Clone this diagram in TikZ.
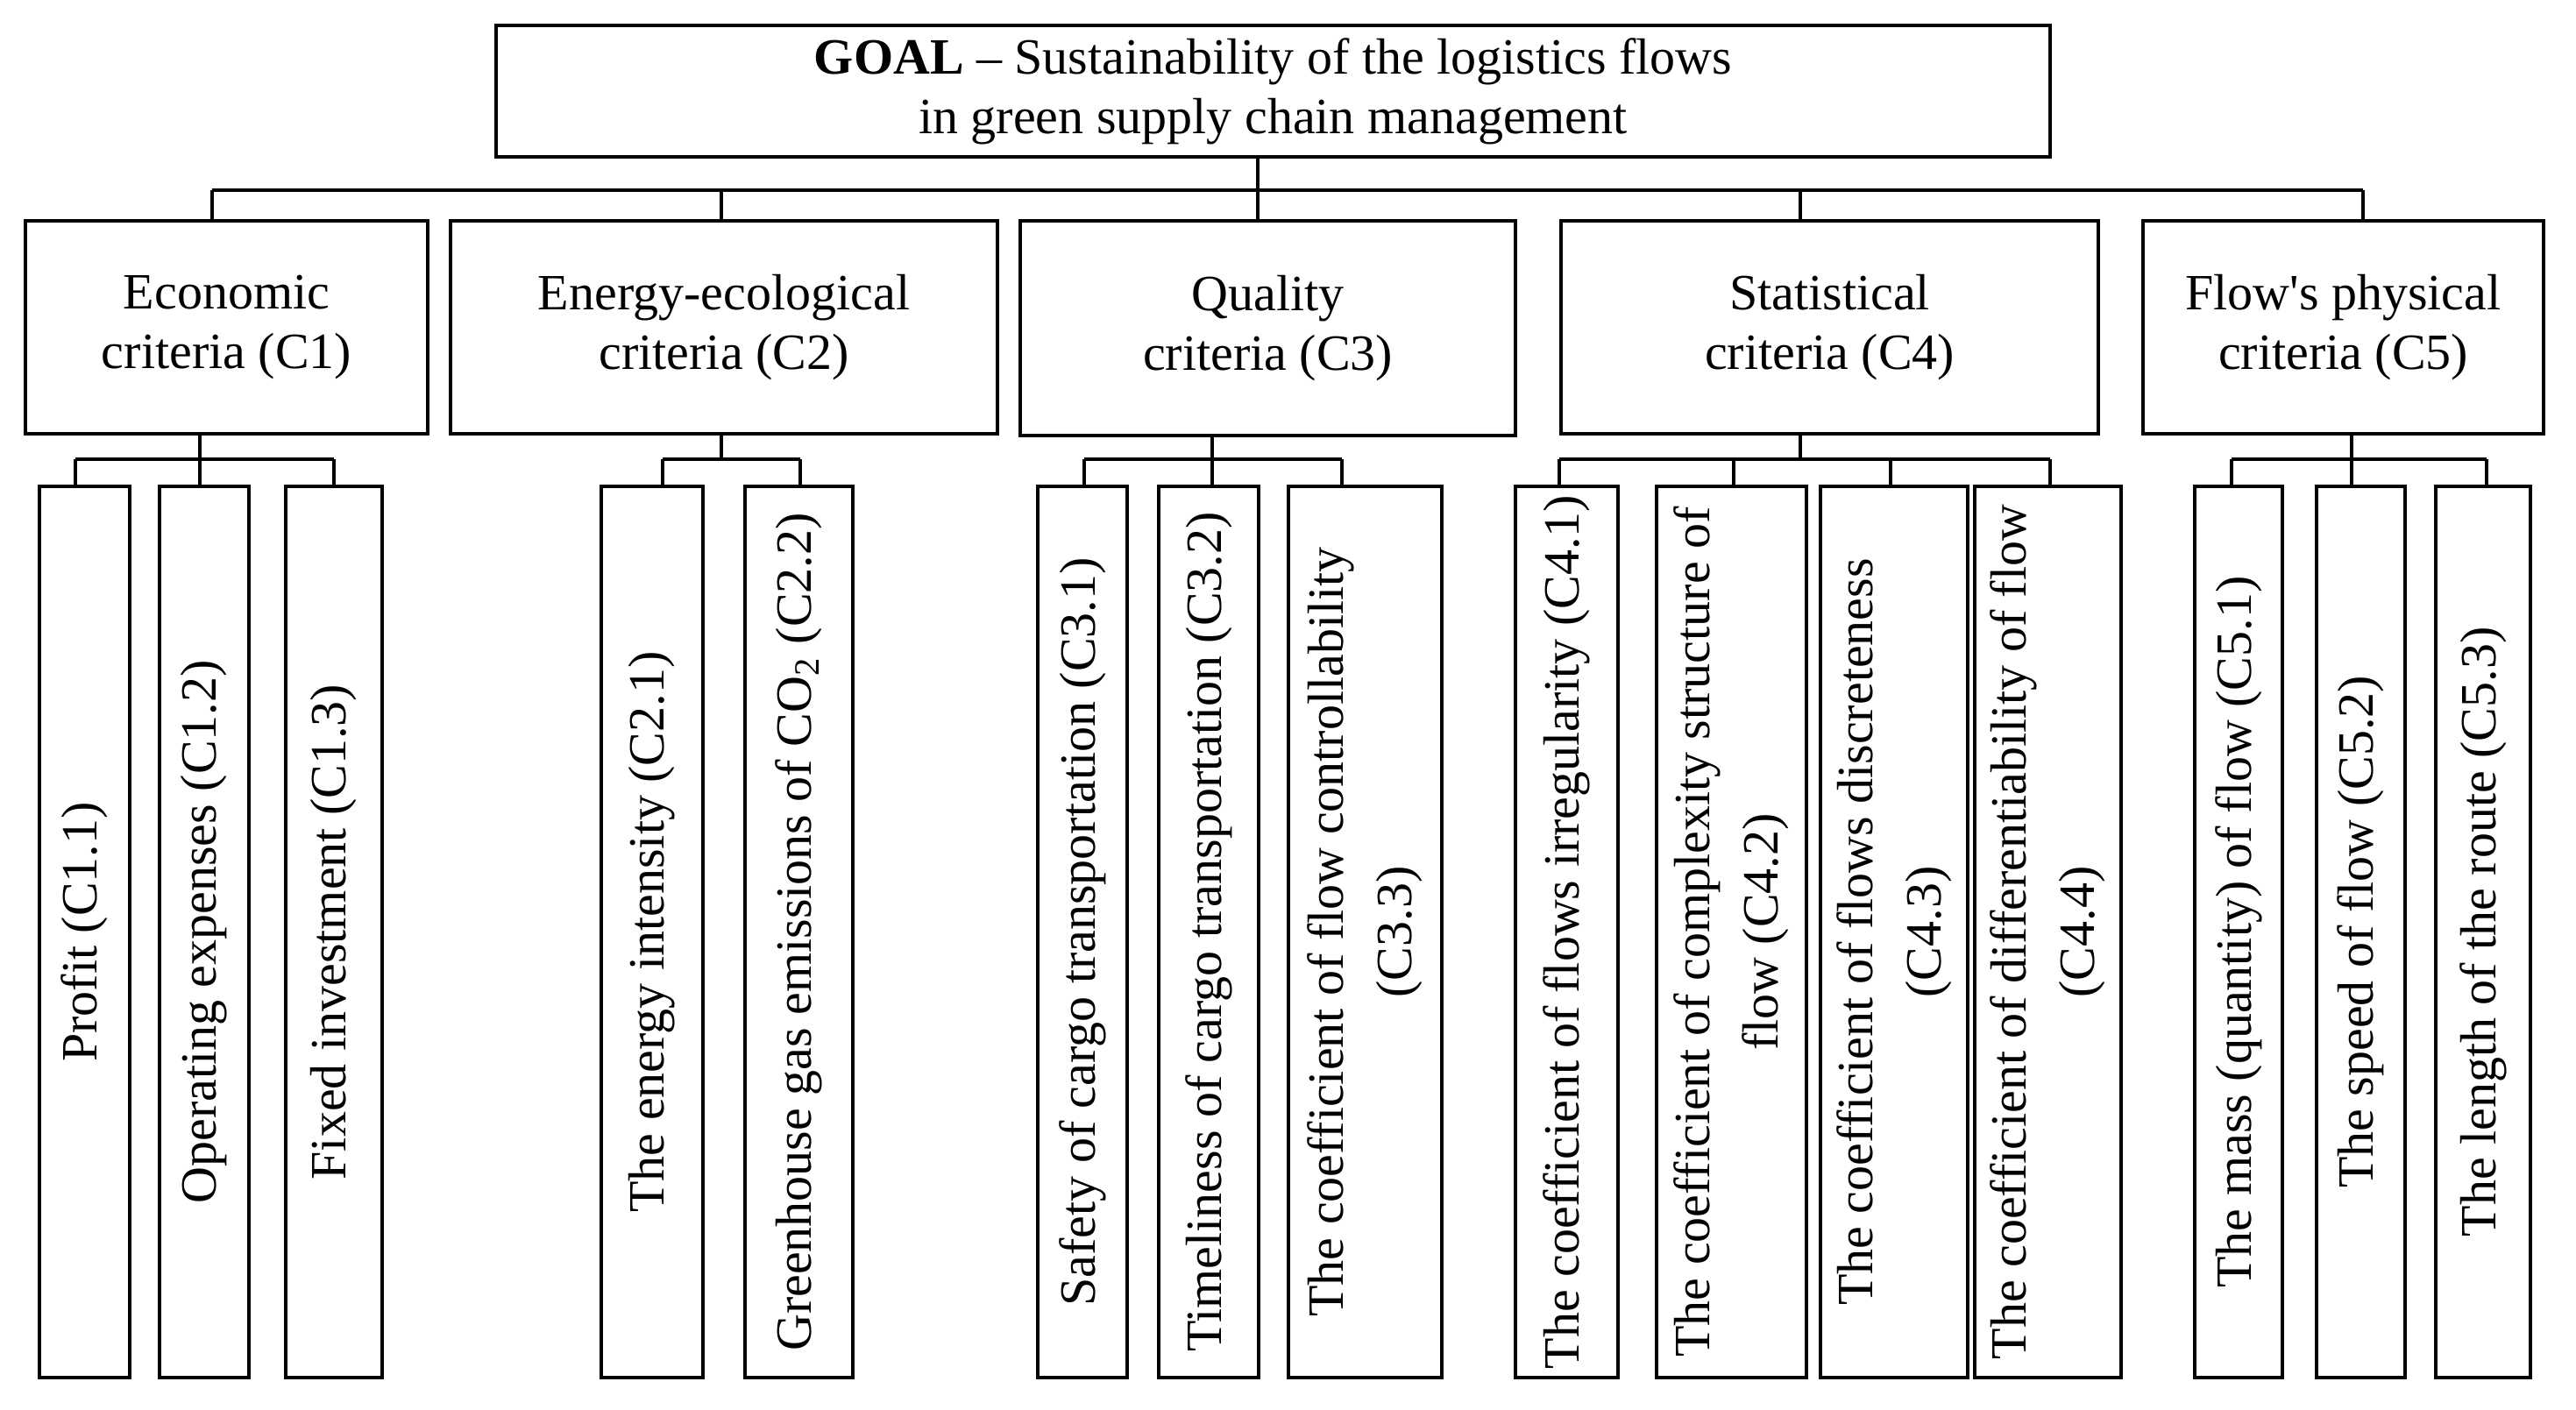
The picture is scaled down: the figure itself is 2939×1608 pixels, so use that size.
\documentclass[tikz,border=0pt]{standalone}
\usepackage{fontspec}
\setmainfont{Liberation Serif}[Ligatures=TeXOff]
\tikzset{
  every path/.style={line width=1pt},
  cbox/.style={draw, line width=1pt, inner sep=0pt, align=center, font=\fontsize{14.5}{17}\selectfont},
  lbox/.style={draw, line width=1pt, inner sep=0pt, align=center, rotate=90, font=\fontsize{14.5}{19.5}\selectfont},
  conn/.style={line width=1pt},
}
\newcommand\critbox[6]{\node[cbox, minimum width={(#4-#2)*0.25pt}, minimum height={(#5-#3)*0.25pt}] (#1) at ({(#2+#4)/2},{(#3+#5)/2}) {#6};}
\newcommand\leafbox[4]{\node[lbox, minimum width={(1572-555)*0.25pt}, minimum height={(#3-#2)*0.25pt}] (#1) at ({(#2+#3)/2},{(555+1572)/2}) {#4};}
\begin{document}
\begin{tikzpicture}[x=0.25pt,y=-0.25pt]
\useasboundingbox (0,0) rectangle (2939,1608);
% goal
\critbox{goal}{566}{29}{2339}{179}{\fontsize{14.5}{16.5}\selectfont\textbf{GOAL} – Sustainability of the logistics flows\\in green supply chain management}
% criteria
\critbox{c1}{29}{252}{488}{495}{Economic\\criteria (C1)}
\critbox{c2}{514}{252}{1138}{495}{Energy-ecological\\criteria (C2)}
\critbox{c3}{1164}{252}{1729}{497}{Quality\\criteria (C3)}
\critbox{c4}{1781}{252}{2394}{495}{Statistical\\criteria (C4)}
\critbox{c5}{2445}{252}{2902}{495}{Flow's physical\\criteria (C5)}
% leaves
\leafbox{l11}{45}{148}{Profit (C1.1)}
\leafbox{l12}{182}{284}{Operating expenses (C1.2)}
\leafbox{l13}{326}{436}{Fixed investment (C1.3)}
\leafbox{l21}{686}{802}{The energy intensity (C2.1)}
\leafbox{l22}{850}{973}{Greenhouse gas emissions of CO\textsubscript{2} (C2.2)}
\leafbox{l31}{1184}{1286}{Safety of cargo transportation (C3.1)}
\leafbox{l32}{1322}{1436}{Timeliness of cargo transportation (C3.2)}
\leafbox{l33}{1470}{1645}{The coefficient of flow controllability\\(C3.3)}
\leafbox{l41}{1729}{1846}{The coefficient of flows irregularity (C4.1)}
\leafbox{l42}{1890}{2061}{The coefficient of complexity structure of\\flow (C4.2)}
\leafbox{l43}{2077}{2245}{The coefficient of flows discreteness\\(C4.3)}
\leafbox{l44}{2253}{2420}{The coefficient of differentiability of flow\\(C4.4)}
\leafbox{l51}{2504}{2604}{The mass (quantity) of flow (C5.1)}
\leafbox{l52}{2643}{2744}{The speed of flow (C5.2)}
\leafbox{l53}{2779}{2887}{The length of the route (C5.3)}
% top bus
\coordinate (g0) at (1435,217);
\coordinate (t1) at (242,217);
\coordinate (t2) at (823,217);
\coordinate (t3) at (1435,217);
\coordinate (t4) at (2054,217);
\coordinate (t5) at (2696,217);
\draw[conn] (goal.south -| g0) -- (g0);
\draw[conn] (t1) -- (t5);
\foreach \i in {1,...,5}{\draw[conn] (t\i) -- (t\i |- c\i.north);}
% C1 sub
\coordinate (s1) at (228,524);
\coordinate (s1a) at (86,524);
\coordinate (s1b) at (228,524);
\coordinate (s1c) at (381,524);
\draw[conn] (c1.south -| s1) -- (s1);
\draw[conn] (s1a) -- (s1c);
\draw[conn] (s1a) -- (s1a |- l11.east);
\draw[conn] (s1b) -- (s1b |- l12.east);
\draw[conn] (s1c) -- (s1c |- l13.east);
% C2 sub
\coordinate (s2) at (823,524);
\coordinate (s2a) at (756,524);
\coordinate (s2b) at (913,524);
\draw[conn] (c2.south -| s2) -- (s2);
\draw[conn] (s2a) -- (s2b);
\draw[conn] (s2a) -- (s2a |- l21.east);
\draw[conn] (s2b) -- (s2b |- l22.east);
% C3 sub
\coordinate (s3) at (1383,524);
\coordinate (s3a) at (1237,524);
\coordinate (s3b) at (1383,524);
\coordinate (s3c) at (1531,524);
\draw[conn] (c3.south -| s3) -- (s3);
\draw[conn] (s3a) -- (s3c);
\draw[conn] (s3a) -- (s3a |- l31.east);
\draw[conn] (s3b) -- (s3b |- l32.east);
\draw[conn] (s3c) -- (s3c |- l33.east);
% C4 sub
\coordinate (s4) at (2054,524);
\coordinate (s4a) at (1779,524);
\coordinate (s4b) at (1978,524);
\coordinate (s4c) at (2157,524);
\coordinate (s4d) at (2339,524);
\draw[conn] (c4.south -| s4) -- (s4);
\draw[conn] (s4a) -- (s4d);
\draw[conn] (s4a) -- (s4a |- l41.east);
\draw[conn] (s4b) -- (s4b |- l42.east);
\draw[conn] (s4c) -- (s4c |- l43.east);
\draw[conn] (s4d) -- (s4d |- l44.east);
% C5 sub
\coordinate (s5) at (2683,524);
\coordinate (s5a) at (2546,524);
\coordinate (s5b) at (2683,524);
\coordinate (s5c) at (2837,524);
\draw[conn] (c5.south -| s5) -- (s5);
\draw[conn] (s5a) -- (s5c);
\draw[conn] (s5a) -- (s5a |- l51.east);
\draw[conn] (s5b) -- (s5b |- l52.east);
\draw[conn] (s5c) -- (s5c |- l53.east);
\end{tikzpicture}
\end{document}
